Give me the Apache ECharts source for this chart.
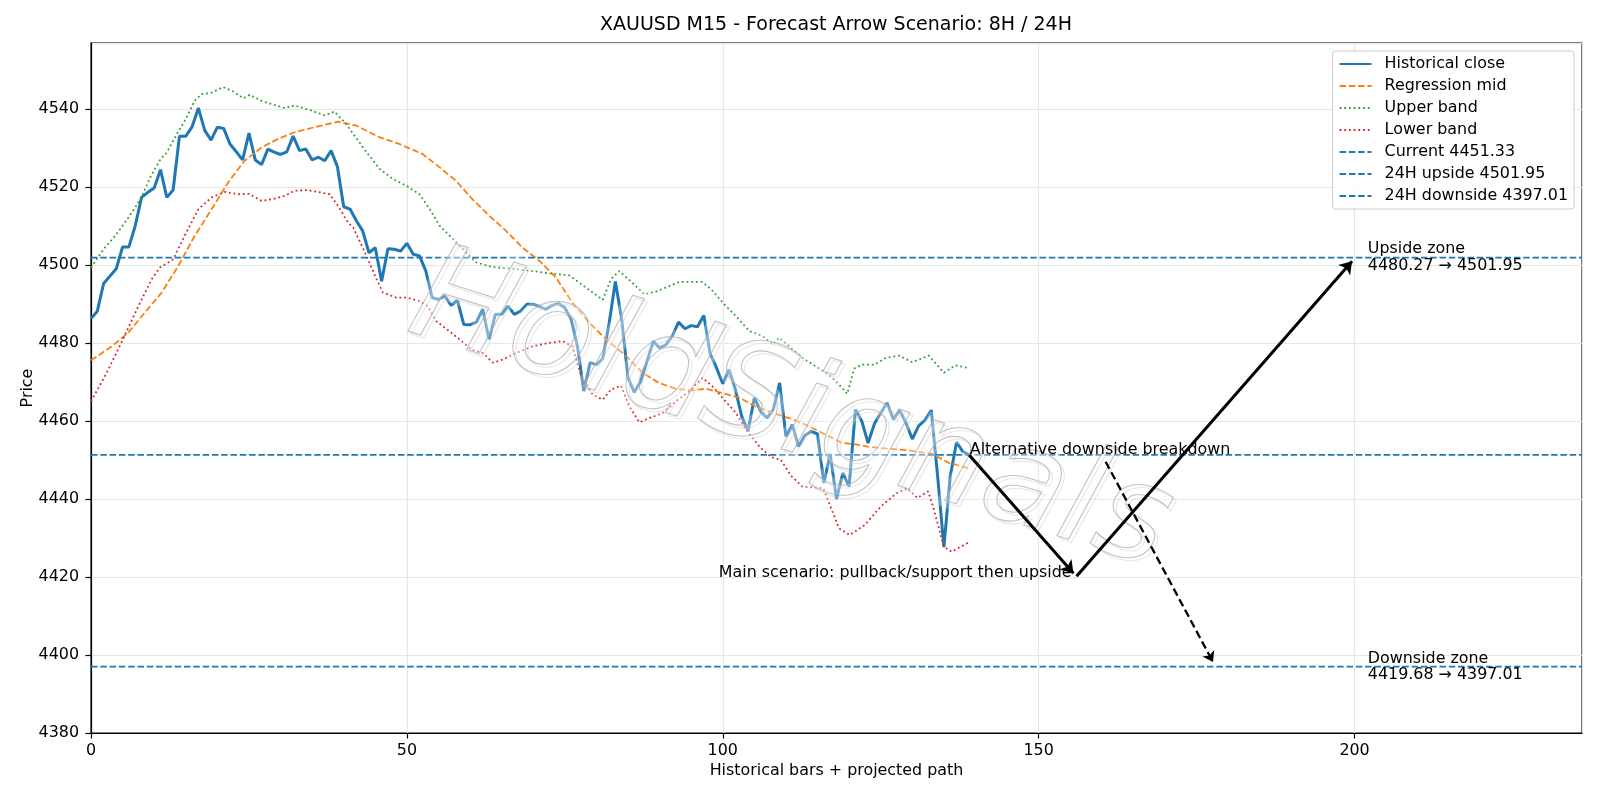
<!DOCTYPE html>
<html>
<head>
<meta charset="utf-8">
<script src="https://cdn.jsdelivr.net/npm/echarts@6.0.0/dist/echarts.min.js"></script>
<style>
  html, body { margin: 0; padding: 0; background: #fff; }
  #container { width: 1600px; height: 800px; }
</style>
</head>
<body>
<div id="container"></div>
<script>
// historical close, one value per bar (bar 0 .. 139)
var closes = [
  4486.3, 4488.2, 4495.3, 4497.2, 4499.1, 4504.7, 4504.7, 4510.1, 4517.4, 4518.7,
  4519.8, 4524.5, 4517.4, 4519.3, 4533.1, 4533.1, 4535.5, 4540.3, 4534.6, 4532.1,
  4535.4, 4535.1, 4531.1, 4529.1, 4527.0, 4533.9, 4527.0, 4525.8, 4529.8, 4529.0,
  4528.4, 4529.1, 4533.1, 4529.4, 4529.8, 4527.0, 4527.7, 4526.8, 4529.4, 4525.3,
  4515.0, 4514.4, 4511.4, 4508.8, 4503.2, 4504.5, 4495.9, 4504.2, 4504.1, 4503.6,
  4505.6, 4502.8, 4502.4, 4498.5, 4491.7, 4491.2, 4492.1, 4489.7, 4491.0, 4484.8,
  4484.7, 4485.4, 4488.7, 4481.0, 4487.4, 4487.4, 4489.5, 4487.4, 4488.2, 4490.0,
  4490.0, 4489.4, 4488.7, 4489.7, 4490.2, 4489.1, 4486.1, 4479.2, 4467.7, 4475.0,
  4474.5, 4476.0, 4485.0, 4495.8, 4486.1, 4471.1, 4467.4, 4470.2, 4475.4, 4480.5,
  4478.8, 4479.6, 4481.8, 4485.4, 4483.7, 4484.5, 4484.2, 4487.1, 4477.3, 4473.7,
  4469.6, 4473.2, 4468.1, 4461.2, 4457.4, 4466.0, 4462.5, 4460.8, 4463.0, 4469.8,
  4456.1, 4459.1, 4453.5, 4456.3, 4457.4, 4456.7, 4444.1, 4451.6, 4440.0, 4446.7,
  4443.2, 4463.0, 4460.0, 4454.4, 4459.3, 4462.1, 4464.7, 4460.4, 4462.8, 4459.5,
  4455.4, 4458.8, 4460.2, 4462.8, 4446.0, 4427.7, 4445.8, 4454.6, 4452.2, 4451.3
];

// regression mid, read as [bar, price]
var midLine = [
  [0,4475.6],[3.3,4479.2],[5.9,4482.7],[8.5,4487.8],[11.2,4493],[13.8,4499.8],[16.4,4507.5],
  [19.1,4514.4],[21.7,4521.2],[24.3,4526.8],[27,4530.2],[29.6,4532.4],[32.2,4534.1],[35.4,4535.4],
  [39.1,4536.8],[42,4535.8],[45.7,4532.8],[48.8,4531.1],[52.5,4528.5],[55.2,4525.1],[57.8,4521.6],
  [60.4,4516.9],[63.1,4512.6],[65.7,4508.8],[68.3,4504.5],[71,4501.1],[73.6,4496.8],[76.2,4490.4],
  [78.9,4485.2],[81.5,4481],[84.7,4476.7],[87.3,4472.4],[89.9,4469.8],[92.6,4468.3],[95.2,4467.9],
  [97.3,4468.3],[100,4467.2],[102.6,4466],[105.2,4463.8],[107.9,4462.1],[110.5,4460.8],[113.1,4459.1],
  [116.3,4456.5],[118.9,4454.4],[121.3,4454],[123.1,4453.4],[126.3,4452.9],[129.5,4452.5],
  [133.1,4451.6],[135.8,4449.3],[138.7,4448],[139,4447.9]
];

var upperBand = [
  [0,4499.4],[2,4504.1],[3.8,4507.5],[5.4,4511],[7,4514.8],[8,4517.5],[9.4,4522.6],[11,4527.2],
  [12,4528.9],[13.3,4532.8],[15,4537.5],[16.4,4542.2],[17.5,4543.9],[19,4544.2],[20.9,4545.7],
  [22.6,4544.5],[24.1,4542.8],[25.1,4543.7],[27.2,4542],[30.7,4540.3],[32.2,4541],[35,4539.6],
  [37,4538.4],[38.5,4539.4],[40.2,4536.6],[41.5,4533.7],[43.6,4529],[45.7,4524.7],[47.8,4522.1],
  [49.9,4520.4],[52,4518.2],[53.6,4514.4],[55.2,4510.1],[57.3,4506.7],[59.4,4503.2],[61,4500.7],
  [63.6,4499.5],[66.7,4499.1],[69.9,4498.5],[72.6,4497.9],[75.7,4497.4],[78.4,4494.2],[81,4491.1],
  [82.3,4496.4],[83.6,4498.5],[85.7,4495.5],[87.6,4492.5],[89.7,4493.4],[93.1,4495.7],[96.8,4495.7],
  [98.4,4493.4],[100.2,4490],[102.1,4486.9],[104.2,4483.1],[106.3,4481.8],[107.9,4479.7],
  [108.9,4481.4],[110.5,4479.2],[112.6,4476.2],[114.7,4474.1],[116.8,4471.9],[118.4,4469.4],
  [119.7,4467],[120.8,4473.5],[122.1,4474.5],[124,4474.5],[125.8,4476.2],[127.9,4476.8],
  [130,4475.1],[132.6,4476.8],[135,4472.4],[136.8,4474.3],[138.7,4473.7],[139,4473.5]
];

var lowerBand = [
  [0,4465.1],[2.2,4471.5],[4.8,4480.1],[7.5,4489.5],[9.6,4496.4],[10.9,4499.4],[13,4501.5],
  [14.8,4507.5],[17,4514.4],[19.1,4517.4],[21.2,4518.8],[23.3,4518.2],[25,4518.3],[27,4516.5],
  [29.1,4517.1],[30.7,4517.8],[32.2,4519.1],[34.1,4519.3],[35.9,4518.8],[37.8,4518.2],[39.1,4515.2],
  [40.7,4510.9],[41.5,4509.7],[43.6,4502.4],[45.2,4496.4],[46.2,4493],[48.3,4491.7],[49.9,4491.7],
  [52,4490.8],[53.3,4489.5],[54.6,4485.7],[56.7,4483.1],[58.3,4481],[60.2,4478.4],[62,4477.5],
  [63.6,4475],[65.2,4475.8],[67.3,4477.5],[69.9,4479.2],[72.6,4480.1],[74.7,4480.5],[76.2,4479.2],
  [77.6,4471.5],[79.4,4466.8],[81,4465.5],[82.3,4468.1],[83.9,4469.1],[85.2,4463.8],[86.8,4459.7],
  [88.4,4460.8],[90.5,4462.1],[92.6,4465.1],[94.7,4467.7],[96.8,4471.1],[98.4,4468.9],[100.2,4465.5],
  [102.1,4462.1],[103.7,4457.8],[105.8,4453.5],[107.6,4450.8],[109.2,4450.1],[110.8,4446],
  [112.6,4443.2],[115.9,4442.8],[118.4,4432.5],[120.1,4430.8],[122.5,4433.4],[125,4438.1],
  [127.5,4441.5],[129.2,4442.8],[130.8,4440.3],[132.5,4442],[133.3,4438],[135,4427.8],
  [136.2,4426.5],[138.7,4428.7],[139,4429]
];

var currentPrice = 4451.33;
var upside24h = 4501.95;
var downside24h = 4397.01;
var upsideFrom = 4480.27;
var downsideFrom = 4419.68;

// projected arrows [from, to]
var mainLeg1 = [[139, 4451.33], [155.5, 4421.0]];
var mainLeg2 = [[156.0, 4420.2], [199.6, 4501.0]];
var altLeg = [[160.6, 4449.6], [177.6, 4398.2]];

var xMax = 236;
var font = 'DejaVu Sans';
var fs = 15.9;

var hist = closes.map(function (v, i) { return [i, v]; });
function hline(v) { return [[0, v], [xMax, v]]; }
function plain(v) { return String(v); }

var wmFont = 'italic 134px "DejaVu Sans"';
var wmText = 'HoldSignals';
var wmRot = -0.305;

myChart = echarts.init(document.getElementById('container'));
option = {
  animation: false,
  backgroundColor: '#fff',
  textStyle: { fontFamily: font },
  grid: {
    left: 91, right: 18, top: 43, bottom: 67,
    show: true, borderColor: '#000', borderWidth: 1.2, backgroundColor: 'transparent'
  },
  legend: {
    orient: 'vertical',
    right: 26, top: 51,
    itemWidth: 32, itemHeight: 14, itemGap: 6,
    padding: [5, 6, 5, 6],
    backgroundColor: 'rgba(255,255,255,0.85)',
    borderColor: '#cccccc', borderWidth: 1, borderRadius: 3,
    itemStyle: { opacity: 0 },
    textStyle: { fontFamily: font, fontSize: fs, color: '#000', padding: [0, 0, 0, 8] },
    data: ['Historical close', 'Regression mid', 'Upper band', 'Lower band',
      'Current ' + currentPrice.toFixed(2),
      '24H upside ' + upside24h.toFixed(2),
      '24H downside ' + downside24h.toFixed(2)]
  },
  xAxis: {
    type: 'value', min: 0, max: xMax, interval: 50,
    name: 'Historical bars + projected path', nameLocation: 'middle', nameGap: 30, nameMoveOverlap: false,
    nameTextStyle: { fontFamily: font, fontSize: fs, color: '#000' },
    axisLine: { show: true, onZero: false, lineStyle: { color: '#000', width: 1.2 } },
    axisTick: { show: true, length: 5.5, lineStyle: { color: '#000', width: 1.2 } },
    axisLabel: { fontFamily: font, fontSize: fs, color: '#000', margin: 10, showMaxLabel: false, formatter: plain },
    splitLine: { show: true, lineStyle: { color: '#e6e6e6', width: 1.2 } }
  },
  yAxis: {
    type: 'value', min: 4380, max: 4557, interval: 20,
    name: 'Price', nameLocation: 'middle', nameGap: 55, nameRotate: 90, nameMoveOverlap: false,
    nameTextStyle: { fontFamily: font, fontSize: fs, color: '#000' },
    axisLine: { show: true, onZero: false, lineStyle: { color: '#000', width: 1.2 } },
    axisTick: { show: true, length: 5.5, lineStyle: { color: '#000', width: 1.2 } },
    axisLabel: { fontFamily: font, fontSize: fs, color: '#000', margin: 12, showMaxLabel: false, formatter: plain },
    splitLine: { show: true, lineStyle: { color: '#e6e6e6', width: 1.2 } }
  },
  graphic: [
    {
      type: 'text', x: 836, y: 25, z: 10,
      style: { text: 'XAUUSD M15 - Forecast Arrow Scenario: 8H / 24H', align: 'center', verticalAlign: 'middle',
        font: '19px "DejaVu Sans"', fill: '#000' }
    },
    {
      // watermark glow
      type: 'text', x: 790, y: 415, rotation: wmRot, z: 50, silent: true,
      style: { text: wmText, font: wmFont, align: 'center', verticalAlign: 'middle',
        fill: 'rgba(255,255,255,0.22)', stroke: 'rgba(255,255,255,0.28)', lineWidth: 14 }
    },
    {
      type: 'text', x: 793, y: 418, rotation: wmRot, z: 51, silent: true,
      style: { text: wmText, font: wmFont, align: 'center', verticalAlign: 'middle',
        fill: 'none', stroke: 'rgba(205,205,205,0.45)', lineWidth: 1.1 }
    },
    {
      type: 'text', x: 790, y: 415, rotation: wmRot, z: 52, silent: true,
      style: { text: wmText, font: wmFont, align: 'center', verticalAlign: 'middle',
        fill: 'none', stroke: 'rgba(170,170,170,0.7)', lineWidth: 1.1 }
    }
  ],
  series: [
    {
      name: 'Historical close', type: 'line', data: hist, symbol: 'none', z: 3,
      lineStyle: { color: '#1f77b4', width: 3 }, itemStyle: { color: '#1f77b4' }
    },
    {
      name: 'Regression mid', type: 'line', data: midLine, symbol: 'none', z: 3,
      lineStyle: { color: '#ff7f0e', width: 1.8, type: [6.5, 2.8] }, itemStyle: { color: '#ff7f0e' }
    },
    {
      name: 'Upper band', type: 'line', data: upperBand, symbol: 'none', z: 3,
      lineStyle: { color: '#2ca02c', width: 1.8, type: [1.8, 2.9] }, itemStyle: { color: '#2ca02c' }
    },
    {
      name: 'Lower band', type: 'line', data: lowerBand, symbol: 'none', z: 3,
      lineStyle: { color: '#d62728', width: 1.8, type: [1.8, 2.9] }, itemStyle: { color: '#d62728' }
    },
    {
      name: 'Current ' + currentPrice.toFixed(2), type: 'line', data: hline(currentPrice), symbol: 'none', z: 3,
      lineStyle: { color: '#1f77b4', width: 1.8, type: [6.5, 2.8] }, itemStyle: { color: '#1f77b4' }
    },
    {
      name: '24H upside ' + upside24h.toFixed(2), type: 'line', data: hline(upside24h), symbol: 'none', z: 3,
      lineStyle: { color: '#1f77b4', width: 1.8, type: [6.5, 2.8] }, itemStyle: { color: '#1f77b4' }
    },
    {
      name: '24H downside ' + downside24h.toFixed(2), type: 'line', data: hline(downside24h), symbol: 'none', z: 3,
      lineStyle: { color: '#1f77b4', width: 1.8, type: [6.5, 2.8] }, itemStyle: { color: '#1f77b4' }
    },
    {
      type: 'lines', coordinateSystem: 'cartesian2d', zlevel: 1, z: 4, silent: true,
      symbol: ['none', 'arrow'], symbolSize: 12,
      lineStyle: { color: '#000', width: 3, opacity: 1, curveness: 0 },
      data: [{ coords: mainLeg1 }, { coords: mainLeg2 }]
    },
    {
      type: 'lines', coordinateSystem: 'cartesian2d', zlevel: 1, z: 4, silent: true,
      symbol: ['none', 'arrow'], symbolSize: 10,
      lineStyle: { color: '#000', width: 2.3, opacity: 1, curveness: 0, type: [8, 4] },
      data: [{ coords: altLeg }]
    },
    {
      type: 'scatter', symbolSize: 0, zlevel: 1, z: 5, silent: true,
      itemStyle: { opacity: 1, color: '#000' },
      label: { show: true, position: [0, 0], fontFamily: font, fontSize: fs, color: '#000', opacity: 1, textBorderWidth: 0 },
      data: [
        { value: [139.1, 4450.6], label: { formatter: 'Alternative downside breakdown', align: 'left', verticalAlign: 'bottom' } },
        { value: [155.2, 4421.0], label: { formatter: 'Main scenario: pullback/support then upside', align: 'right', verticalAlign: 'middle' } },
        { value: [202.1, upside24h], label: { formatter: 'Upside zone\n' + upsideFrom.toFixed(2) + ' \u2192 ' + upside24h.toFixed(2), align: 'left', verticalAlign: 'middle', lineHeight: 16.5 } },
        { value: [202.1, downside24h], label: { formatter: 'Downside zone\n' + downsideFrom.toFixed(2) + ' \u2192 ' + downside24h.toFixed(2), align: 'left', verticalAlign: 'middle', lineHeight: 16.5 } }
      ]
    }
  ]
};
myChart.setOption(option, { notMerge: true });
</script>
</body>
</html>
